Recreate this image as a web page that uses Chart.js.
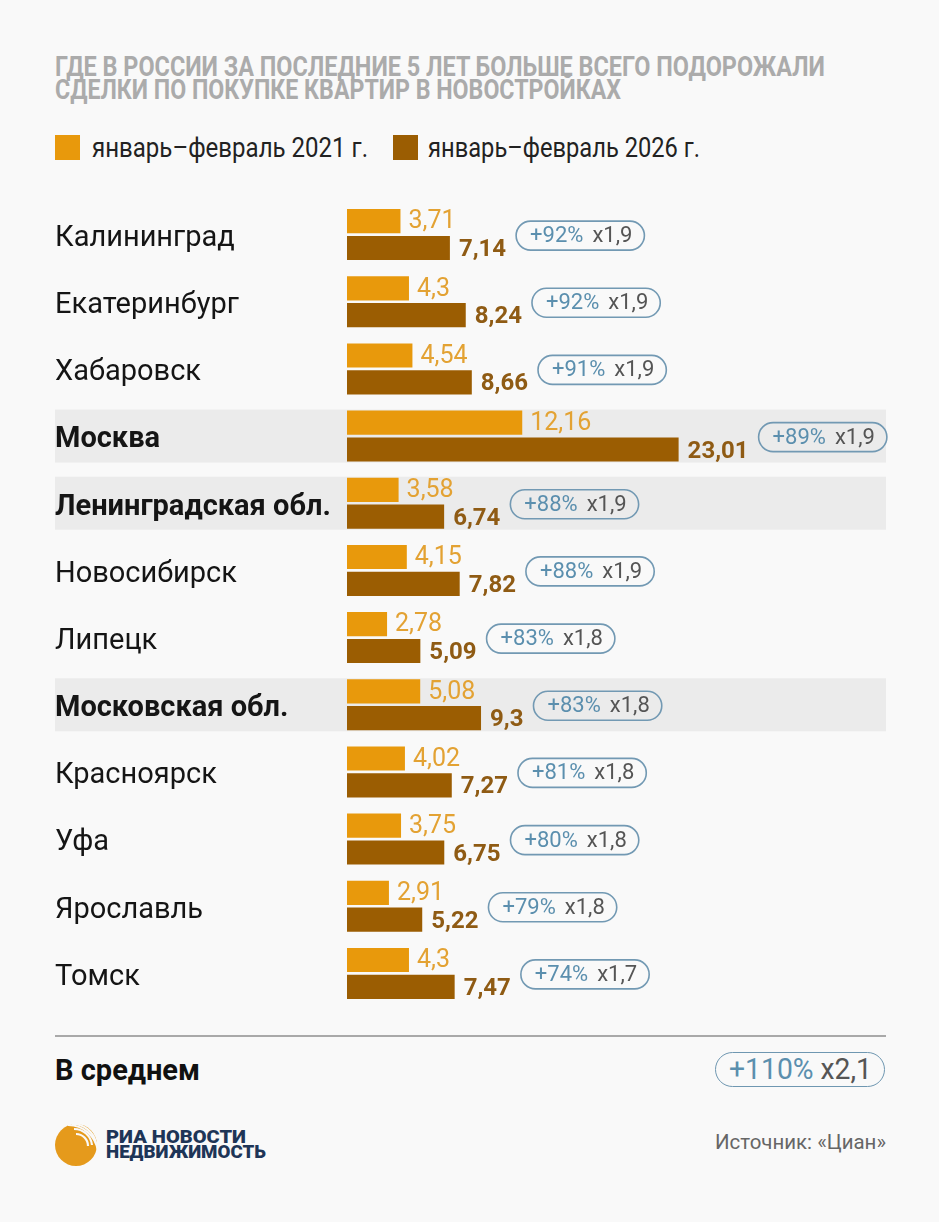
<!DOCTYPE html>
<html lang="ru">
<head>
<meta charset="utf-8">
<script src="https://cdn.jsdelivr.net/npm/chart.js@4.4.1/dist/chart.umd.min.js"></script>
<style>
  body { margin: 0; background: #f9f9f9; font-family: Roboto, "Noto Sans", sans-serif; }
  #page { position: relative; width: 939px; height: 1222px; overflow: hidden; }
  .abs { position: absolute; white-space: nowrap; }
  .fit { display: inline-block; transform-origin: 0 0; }
  .title { color: #ababab; font-weight: bold; font-size: 27px; line-height: 27px; }
  .legend-box { position: absolute; width: 25px; height: 25px; }
  .legend-text { color: #222; font-size: 27px; line-height: 27px; }
  #chartWrap { position: absolute; left: 0; top: 201px; width: 939px; height: 806px; }
  #sep { position: absolute; left: 55px; top: 1035px; width: 831px; height: 2px; background: #a9a9a9; }
  #avgLabel { left: 55px; top: 1054px; font-size: 29px; line-height: 32px; font-weight: bold; color: #111; }
  #avgPill { position: absolute; left: 715px; top: 1052px; width: 168px; height: 33px;
             border: 1.8px solid #6f97b1; border-radius: 18px; }
  #avgText { left: 729px; top: 1055px; font-size: 29px; line-height: 29px; }
  .pct { color: #5b8fae; }
  .mult { color: #555; }
  .logo-text { left: 106px; color: #1e3557; font-weight: 900; font-size: 18px; line-height: 18px; }
  #source { top: 1132px; color: #666; font-size: 21px; line-height: 21px; }
</style>
</head>
<body>
<div id="page">
  <div class="abs title" style="left:55px; top:54px;"><span class="fit" data-w="770">ГДЕ В РОССИИ ЗА ПОСЛЕДНИЕ 5 ЛЕТ БОЛЬШЕ ВСЕГО ПОДОРОЖАЛИ</span></div>
  <div class="abs title" style="left:55px; top:77px;"><span class="fit" data-w="566">СДЕЛКИ ПО ПОКУПКЕ КВАРТИР В НОВОСТРОЙКАХ</span></div>

  <div class="legend-box" id="lb1" style="left:55px; top:135px;"></div>
  <div class="abs legend-text" style="left:92px; top:135px;"><span class="fit" id="lt1" data-w="276"></span></div>
  <div class="legend-box" id="lb2" style="left:393px; top:135px;"></div>
  <div class="abs legend-text" style="left:428px; top:135px;"><span class="fit" id="lt2" data-w="272"></span></div>

  <div id="chartWrap"><canvas id="chart"></canvas></div>

  <div id="sep"></div>
  <div class="abs" id="avgLabel"><span class="fit" id="avgName"></span></div>
  <div id="avgPill"></div>
  <div class="abs" id="avgText"><span class="fit" data-w="143"><span class="pct" id="avgPct"></span> <span class="mult" id="avgMult"></span></span></div>

  <svg class="abs" style="left:54px; top:1121px;" width="46" height="48" viewBox="0 0 46 48">
    <circle cx="22" cy="24" r="21" fill="#e59a1c"/>
    <g fill="none" stroke="#f9f9f9" stroke-width="2.2">
      <path d="M18 3 A 24 24 0 0 1 42 22"/>
      <path d="M20 8 A 18 18 0 0 1 38 24"/>
      <path d="M22 13 A 12 12 0 0 1 34 25"/>
      <path d="M14 4 A 30 30 0 0 1 44 30"/>
    </g>
  </svg>
  <div class="abs logo-text" style="top:1128px;"><span class="fit" data-w="140">РИА НОВОСТИ</span></div>
  <div class="abs logo-text" style="top:1143px;"><span class="fit" data-w="160">НЕДВИЖИМОСТЬ</span></div>
  <div class="abs" id="source" style="left:715px;"><span class="fit" data-w="171">Источник: «Циан»</span></div>
</div>

<script>
// Данные графика
const regions = ['Калининград', 'Екатеринбург', 'Хабаровск', 'Москва', 'Ленинградская обл.',
  'Новосибирск', 'Липецк', 'Московская обл.', 'Красноярск', 'Уфа', 'Ярославль', 'Томск'];
const price2021 = [3.71, 4.3, 4.54, 12.16, 3.58, 4.15, 2.78, 5.08, 4.02, 3.75, 2.91, 4.3];
const price2026 = [7.14, 8.24, 8.66, 23.01, 6.74, 7.82, 5.09, 9.3, 7.27, 6.75, 5.22, 7.47];
const growthPct = ['+92%', '+92%', '+91%', '+89%', '+88%', '+88%', '+83%', '+83%', '+81%', '+80%', '+79%', '+74%'];
const growthMult = ['x1,9', 'x1,9', 'x1,9', 'x1,9', 'x1,9', 'x1,9', 'x1,8', 'x1,8', 'x1,8', 'x1,8', 'x1,8', 'x1,7'];
const highlighted = ['Москва', 'Ленинградская обл.', 'Московская обл.'];
const seriesNames = ['январь–февраль 2021 г.', 'январь–февраль 2026 г.'];
const average = { name: 'В среднем', pct: '+110%', mult: 'x2,1' };

const color2021 = '#e8990c';
const color2026 = '#9b5d02';
const label2021 = '#e3a233';
const label2026 = '#8f5b14';

// Легенда и итоговая строка
document.getElementById('lb1').style.background = color2021;
document.getElementById('lb2').style.background = color2026;
document.getElementById('lt1').textContent = seriesNames[0];
document.getElementById('lt2').textContent = seriesNames[1];
document.getElementById('avgName').textContent = average.name;
document.getElementById('avgPct').textContent = average.pct;
document.getElementById('avgMult').textContent = average.mult;

const fmt = v => String(v).replace('.', ',');

// Серые полосы под выделенными регионами
const bandPlugin = {
  id: 'bands',
  beforeDraw(chart) {
    const { ctx, scales: { y } } = chart;
    ctx.save();
    ctx.fillStyle = '#ebebeb';
    regions.forEach((r, i) => {
      if (!highlighted.includes(r)) return;
      const cy = y.getPixelForValue(i);
      ctx.fillRect(55, cy - 26.5, 831, 53);
    });
    ctx.restore();
  }
};

// Подписи значений и «таблетки» с ростом
const labelPlugin = {
  id: 'valueLabels',
  afterDatasetsDraw(chart) {
    const { ctx } = chart;
    const m0 = chart.getDatasetMeta(0).data;
    const m1 = chart.getDatasetMeta(1).data;
    ctx.save();
    ctx.textBaseline = 'middle';
    regions.forEach((r, i) => {
      const b0 = m0[i], b1 = m1[i];
      ctx.font = '25px Roboto';
      ctx.fillStyle = label2021;
      const t0 = fmt(price2021[i]);
      ctx.fillText(t0, b0.x + 8, b0.y + 1);
      const e0 = b0.x + 8 + ctx.measureText(t0).width;

      ctx.font = 'bold 24px Roboto';
      ctx.fillStyle = label2026;
      const t1 = fmt(price2026[i]);
      ctx.fillText(t1, b1.x + 9, b1.y + 2);
      const e1 = b1.x + 9 + ctx.measureText(t1).width;

      // таблетка
      const left = Math.max(e0, e1) + 10;
      const cy = (b0.y + b1.y) / 2 + 1;
      ctx.font = '22px Roboto';
      const wp = ctx.measureText(growthPct[i]).width;
      const wm = ctx.measureText(growthMult[i]).width;
      const w = 14 + wp + 9 + wm + 12;
      const h = 29;
      ctx.beginPath();
      ctx.roundRect(left, cy - h / 2, w, h, h / 2);
      ctx.lineWidth = 1.6;
      ctx.strokeStyle = '#7299b3';
      ctx.stroke();
      ctx.fillStyle = '#5b8fae';
      ctx.fillText(growthPct[i], left + 14, cy + 1);
      ctx.fillStyle = '#555';
      ctx.fillText(growthMult[i], left + 14 + wp + 9, cy + 1);
    });
    ctx.restore();
  }
};

new Chart(document.getElementById('chart'), {
  type: 'bar',
  data: {
    labels: regions,
    datasets: [
      { label: seriesNames[0], data: price2021, backgroundColor: color2021 },
      { label: seriesNames[1], data: price2026, backgroundColor: color2026 }
    ]
  },
  options: {
    indexAxis: 'y',
    responsive: true,
    maintainAspectRatio: false,
    animation: false,
    layout: { padding: { left: 55, right: 53, top: 0, bottom: 0 } },
    categoryPercentage: 0.8,
    barPercentage: 0.9,
    plugins: { legend: { display: false }, tooltip: { enabled: false } },
    scales: {
      x: { display: false, min: 0, max: 37.4 },
      y: {
        grid: { display: false },
        border: { display: false },
        afterFit(scale) {
          scale.width = 292;
          scale.paddingTop = 0;
          scale.paddingBottom = 0;
        },
        ticks: {
          crossAlign: 'far',
          labelOffset: 4,
          color: '#151515',
          font: ctx => ({
            family: 'Roboto',
            size: 29,
            weight: highlighted.includes(regions[ctx.index]) ? 'bold' : 'normal'
          })
        }
      }
    }
  },
  plugins: [bandPlugin, labelPlugin]
});

// Сжатый шрифт: подгоняем ширину строк
function fitAll() {
  document.querySelectorAll('.fit[data-w]').forEach(el => {
    const target = +el.dataset.w;
    const w = el.getBoundingClientRect().width;
    if (w > 0) el.style.transform = 'scaleX(' + (target / w) + ')';
  });
}
document.fonts.ready.then(fitAll);
</script>
</body>
</html>
